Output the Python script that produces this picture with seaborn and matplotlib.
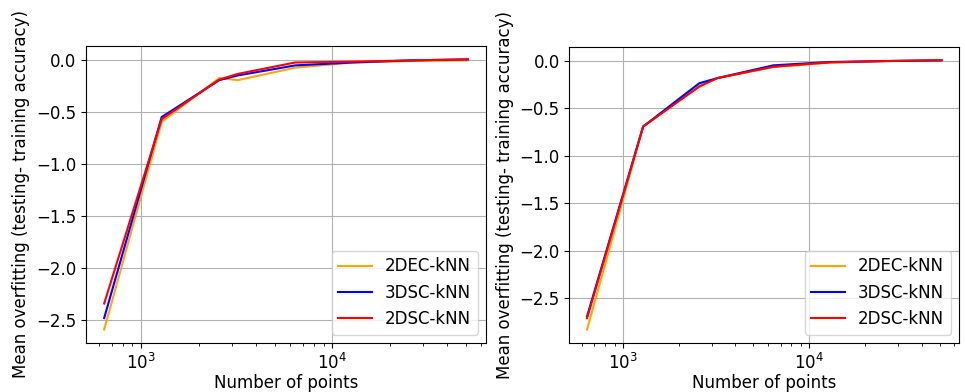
import numpy as np
import pandas as pd
import matplotlib
matplotlib.use("Agg")
import matplotlib.pyplot as plt
import seaborn as sns

n_points = [640, 1280, 2560, 3200, 6400, 12800, 25600, 51200]
series_names = ["2DEC-kNN", "3DSC-kNN", "2DSC-kNN"]
colors = ["orange", "blue", "red"]

left_2dec = [-2.59, -0.59, -0.17, -0.19, -0.07, -0.02, -0.006, 0.0]
left_3dsc = [-2.48, -0.545, -0.19, -0.145, -0.048, -0.02, 0.0, 0.01]
left_2dsc = [-2.34, -0.565, -0.185, -0.13, -0.02, -0.012, 0.0, 0.01]

right_2dec = [-2.83, -0.69, -0.26, -0.18, -0.063, -0.017, 0.0, 0.007]
right_3dsc = [-2.69, -0.69, -0.234, -0.18, -0.045, -0.01, 0.0, 0.007]
right_2dsc = [-2.71, -0.69, -0.27, -0.18, -0.06, -0.014, 0.0, 0.01]

ylabel = "Mean overfitting (testing- training accuracy)"
xlabel = "Number of points"

plt.rcParams.update({"font.family": ["DejaVu Sans"], "font.size": 12})

def make_df(vals):
    rows = []
    for name, v in zip(series_names, vals):
        for x, y in zip(n_points, v):
            rows.append({"n": x, "val": y, "model": name})
    return pd.DataFrame(rows)

fig = plt.figure(figsize=(9.65, 3.92), dpi=100)
ax1 = fig.add_axes([0.0891, 0.125, 0.4145, 0.758])
ax2 = fig.add_axes([0.590, 0.125, 0.404, 0.756])

for ax, vals in [(ax1, [left_2dec, left_3dsc, left_2dsc]),
                 (ax2, [right_2dec, right_3dsc, right_2dsc])]:
    df = make_df(vals)
    sns.lineplot(data=df, x="n", y="val", hue="model", palette=colors,
                 hue_order=series_names, ax=ax, linewidth=1.5, sort=False)
    ax.set_xscale("log")
    ax.grid(True, which="major", color="#b0b0b0", linewidth=0.8)
    ax.set_axisbelow(True)
    ax.set_xlabel(xlabel, fontsize=12, labelpad=1)
    ax.set_ylabel(ylabel, fontsize=12)
    ax.tick_params(labelsize=12)
    leg = ax.legend(loc="lower right", fontsize=12)
    leg.set_title(None)

fig.savefig("out.png", dpi=100)
